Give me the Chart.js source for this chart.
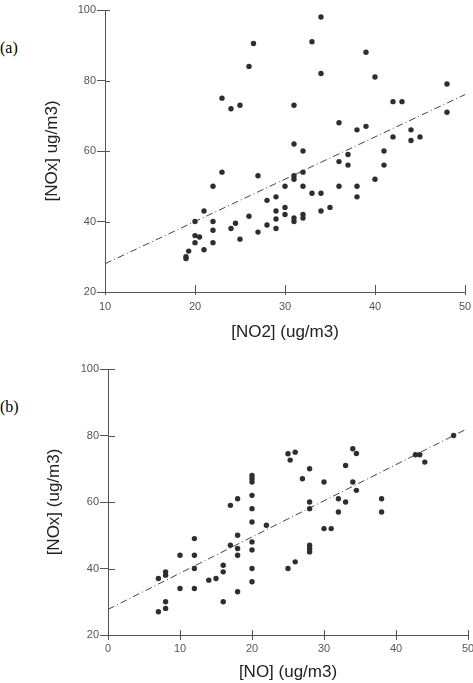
<!DOCTYPE html>
<html><head><meta charset="utf-8">
<script src="https://cdn.jsdelivr.net/npm/chart.js@4.4.0/dist/chart.umd.min.js"></script>
<style>
html,body{margin:0;padding:0;background:#fff;overflow:hidden;width:473px;height:683px;position:relative;}
canvas{display:block;}
#ca{position:absolute;left:0;top:0;}
#cb{position:absolute;left:0;top:350px;}
.lbl{position:absolute;left:0;font-family:"Liberation Serif","DejaVu Serif",serif;font-size:16px;color:#000;line-height:16px;}
</style></head><body>
<div class="lbl" style="top:40px">(a)</div>
<div class="lbl" style="top:399px">(b)</div>
<canvas id="ca" width="480" height="350"></canvas>
<canvas id="cb" width="480" height="333"></canvas>
<script>
// ---- data (a): [NO2] vs [NOx]
const no2 = [19,19,19.3,20,20,20.5,20,21,21,22,22,22,22,23,23,24,24,24.5,25,25,26,26,26.5,27,27,28,28,29,29,29,29,30,30,30,31,31,31,31,31,31,32,32,32,32,32,33,33,34,34,34,34,35,36,36,36,37,37,38,38,38,39,39,40,40,41,41,42,42,43,44,44,45,48,48];
const noxA = [29.5,30,31.6,34,36,35.6,40,32,43,34,37.5,40,50,54,75,72,38,39.5,73,35,84,41.5,90.5,53,37,46,39,47,43,40.7,38,50,44,42,73,62,53,52,41,40,60,54,50,42,41,91,48,98,82,48,43,44,68,57,50,59,56,66,50,47,88,67,81,52,60,56,74,64,74,66,63,64,79,71];
const trendAx = [10, 50];
const trendAy = [28, 76];

// ---- data (b): [NO] vs [NOx]
const no = [7,7,8,8,8,8,10,10,12,12,12,12,14,15,16,16,16,17,17,18,18,18,18,18,20,20,20,20,20,20,20,20,20,20,22,25,25,25.3,26,26,27,28,28,28,28,28,28,30,30,31,32,32,33,33,34,34,34.5,34.5,38,38,42.7,43.3,44,48];
const noxB = [27,37,28,30,38,39,34,44,34,40,44,49,36.5,37,30,39,41,47,59,33,44,46,50,61,36,40,45.6,48,54,58,62,66,67,68,53,40,74.5,72.6,42,75,67,45,46,47,58,60,70,52,66,52,57,61,60,71,66,76,63.5,74.6,57,61,74.2,74.2,72,80];
const trendBx = [0, 49.5];
const trendBy = [27.7, 81.6];

const xTicksA = [10,20,30,40,50];
const xTicksB = [0,10,20,30,40,50];
const yTicks = [20,40,60,80,100];

const AXIS = '#555';
const innerTicks = {
  id: 'innerTicks',
  afterDraw(chart, args, opts) {
    const {ctx, chartArea: a, scales: {x, y}} = chart;
    ctx.save();
    ctx.strokeStyle = AXIS; ctx.lineWidth = 1; ctx.beginPath();
    x.ticks.forEach(t => { const px = Math.round(x.getPixelForValue(t.value)) + 0.5; ctx.moveTo(px, a.bottom); ctx.lineTo(px, a.bottom - opts.xin); });
    y.ticks.forEach(t => { const py = Math.round(y.getPixelForValue(t.value)) + 0.5; ctx.moveTo(a.left, py); ctx.lineTo(a.left + opts.yin, py); });
    ctx.stroke(); ctx.restore();
  }
};

function build(id, xs, ys, tx, ty, xt, yt, o) {
  const pts = xs.map((x, i) => ({x: x, y: ys[i]}));
  const trend = tx.map((x, i) => ({x: x, y: ty[i]}));
  const tickFont = {family: '"Liberation Sans", Arial, sans-serif', size: 11};
  const titleFont = {family: '"Liberation Sans", Arial, sans-serif', size: 17};
  return new Chart(document.getElementById(id), {
    type: 'scatter',
    data: {datasets: [
      {data: pts, backgroundColor: '#2e2e2e', borderColor: '#2e2e2e', borderWidth: 0, pointRadius: 2.7, pointHoverRadius: 2.7, order: 1},
      {type: 'line', data: trend, borderColor: '#444', borderWidth: 1, borderDash: [7, 3, 1, 3], pointRadius: 0, fill: false, order: 2}
    ]},
    options: {
      responsive: false, animation: false, devicePixelRatio: 1,
      layout: {padding: {left: 0, top: o.top, right: o.right, bottom: 0}},
      plugins: {legend: {display: false}, tooltip: {enabled: false}, innerTicks: {xin: o.xin, yin: o.yin}},
      scales: {
        x: {
          type: 'linear', min: o.xmin, max: 50,
          afterFit(s) { s.height = o.xh; },
          afterBuildTicks(s) { s.ticks = o.xticks.map(v => ({value: v})); },
          ticks: {color: AXIS, font: tickFont, padding: o.xpad, maxRotation: 0, autoSkip: false},
          grid: {display: true, drawOnChartArea: false, drawTicks: true, tickLength: o.xtl, color: AXIS, lineWidth: 1},
          border: {display: true, color: AXIS, width: 1},
          title: {display: true, text: xt, color: '#222', font: titleFont, padding: {top: 0, bottom: o.xtb}}
        },
        y: {
          type: 'linear', min: 20, max: 100,
          afterFit(s) { s.width = o.yw; },
          afterBuildTicks(s) { s.ticks = yTicks.map(v => ({value: v})); },
          ticks: {color: AXIS, font: tickFont, padding: 1, autoSkip: false},
          grid: {display: true, drawOnChartArea: false, drawTicks: true, tickLength: 8, color: AXIS, lineWidth: 1},
          border: {display: true, color: AXIS, width: 1},
          title: {display: true, text: yt, color: '#222', font: titleFont, padding: {top: o.ytp, bottom: 0}}
        }
      }
    },
    plugins: [innerTicks]
  });
}

build('ca', no2, noxA, trendAx, trendAy, '[NO2] (ug/m3)', '[NOx] ug/m3)',
  {top: 10, right: 15, xmin: 10, xticks: xTicksA, xh: 58, xtl: 3, xpad: 5, xtb: 7, yw: 105, ytp: 42, xin: 7, yin: 5});
build('cb', no, noxB, trendBx, trendBy, '[NO] (ug/m3)', '[NOx] (ug/m3)',
  {top: 19, right: 12, xmin: 0, xticks: xTicksB, xh: 48, xtl: 5, xpad: 2, xtb: 0, yw: 108, ytp: 44, xin: 5, yin: 7});
</script>
</body></html>
